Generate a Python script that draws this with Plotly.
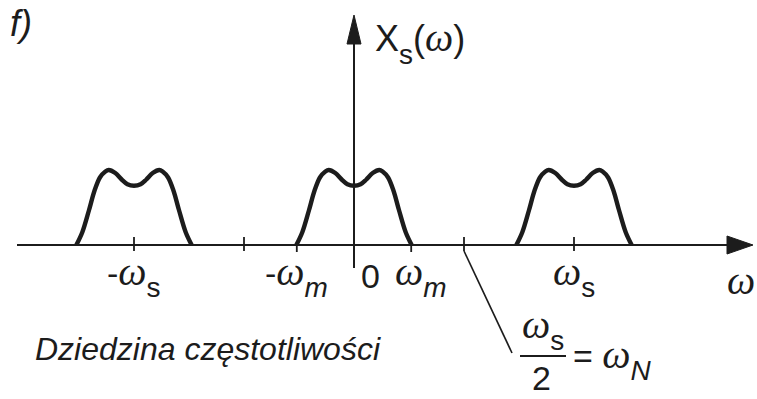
import plotly.graph_objects as go

# Frequency axis is expressed in units of the sampling frequency ω_s.
# One baseband spectrum lobe (offset from lobe centre, normalised magnitude).
lobe_offsets = [-0.262, -0.235, -0.205, -0.180, -0.155, -0.130, -0.115, -0.085, -0.055, -0.030, 0.0,
                0.030, 0.055, 0.085, 0.115, 0.130, 0.155, 0.180, 0.205, 0.235, 0.262]
lobe_heights = [0.0, 0.17, 0.46, 0.72, 0.90, 0.98, 1.0, 0.96, 0.87, 0.81, 0.79,
                0.81, 0.87, 0.96, 1.0, 0.98, 0.90, 0.72, 0.46, 0.17, 0.0]

# Spectral replicas appear at multiples of ω_s.
replica_centers = [-1.0, 0.0, 1.0]

omega_m = 0.26          # highest frequency of the baseband signal
omega_n = 0.5           # Nyquist frequency ω_s / 2
full_ticks = [-1.0, -0.5, 0.5, 1.0]
edge_ticks = [-omega_m, omega_m]

W, H = 757, 399
X_RANGE = [-354 / 220, 403 / 220]
Y_RANGE = [-154 / 75, 245 / 75]
PX = (X_RANGE[1] - X_RANGE[0]) / W   # data units per pixel, horizontal
PY = (Y_RANGE[1] - Y_RANGE[0]) / H   # data units per pixel, vertical

INK = "#1c1c1c"
SANS = "Liberation Sans"
SERIF = "Liberation Serif"
FS = 34
OM_FS = 40
SUB_FS = 28


def om():
    return f"<span style='font-family:{SERIF};font-size:{OM_FS}px'><i>ω</i></span>"


def sub(t, italic=False):
    t = f"<i>{t}</i>" if italic else t
    return (f"<sub><span style='font-size:{SUB_FS}px;baseline-shift:-5px'>{t}</span></sub>")


fig = go.Figure()

for c in replica_centers:
    fig.add_trace(go.Scatter(
        x=[c + o for o in lobe_offsets], y=lobe_heights,
        mode="lines", line=dict(color=INK, width=4.4, shape="spline", smoothing=0.9),
        hoverinfo="skip", showlegend=False))

shapes = []
# horizontal axis with arrow head
x_left = X_RANGE[0] + 17 * PX
x_tip = X_RANGE[1] - 4 * PX
x_base = x_tip - 26 * PX
shapes.append(dict(type="line", x0=x_left, x1=x_base, y0=0, y1=0,
                   line=dict(color=INK, width=2)))
shapes.append(dict(type="path",
                   path=f"M {x_base} {9 * PY} L {x_tip} 0 L {x_base} {-9 * PY} Z",
                   fillcolor=INK, line=dict(color=INK, width=1)))
# vertical axis with arrow head
y_bottom = -23 * PY
y_tip = Y_RANGE[1] - 15 * PY
y_base = y_tip - 29 * PY
shapes.append(dict(type="line", x0=0, x1=0, y0=y_bottom, y1=y_base,
                   line=dict(color=INK, width=2)))
shapes.append(dict(type="path",
                   path=f"M {-7 * PX} {y_base} L 0 {y_tip} L {7 * PX} {y_base} Z",
                   fillcolor=INK, line=dict(color=INK, width=1)))
# tick marks
for t in full_ticks:
    shapes.append(dict(type="line", x0=t, x1=t, y0=8 * PY, y1=-6 * PY,
                       line=dict(color=INK, width=1.8)))
for t in edge_ticks:
    shapes.append(dict(type="line", x0=t, x1=t, y0=0, y1=-7 * PY,
                       line=dict(color=INK, width=1.8)))

# leader from the Nyquist tick down to its label
lead_x1 = omega_n + 48 * PX
lead_y1 = -108 * PY
shapes.append(dict(type="line", x0=omega_n, x1=lead_x1, y0=-6 * PY, y1=lead_y1,
                   line=dict(color=INK, width=1.6)))
# fraction bar of ω_s / 2
frac_x0 = lead_x1 + 8 * PX
frac_x1 = frac_x0 + 46 * PX
frac_y = -111 * PY
shapes.append(dict(type="line", x0=frac_x0, x1=frac_x1, y0=frac_y, y1=frac_y,
                   line=dict(color=INK, width=1.8)))

annotations = []


def label(x, y, text, xanchor="center", yanchor="middle", size=FS, italic=False, xref="x", yref="y"):
    if italic:
        text = f"<i>{text}</i>"
    annotations.append(dict(x=x, y=y, xref=xref, yref=yref, text=text, showarrow=False,
                            xanchor=xanchor, yanchor=yanchor,
                            font=dict(family=SANS, size=size, color=INK)))


lab_y = -31 * PY
label(-1.0, lab_y, f"-{om()}{sub('s')}")
label(-omega_m, lab_y, f"-{om()}{sub('m', True)}")
label(0.077, lab_y, "0")
label(omega_m + 0.045, lab_y, f"{om()}{sub('m', True)}")
label(1.0, lab_y, f"{om()}{sub('s')}")
label(1.76, -35 * PY, om())

label(X_RANGE[0] + 373 * PX, Y_RANGE[1] - 42 * PY, f"X{sub('s')}({om()})", xanchor="left",
      size=36)

label((frac_x0 + frac_x1) / 2, frac_y + 27 * PY, f"{om()}{sub('s')}")
label((frac_x0 + frac_x1) / 2 - 2 * PX, frac_y - 22 * PY, "2")
label(frac_x1 + 5 * PX, frac_y - 3 * PY, f"= {om()}{sub('N', True)}", xanchor="left")

label(X_RANGE[0] + 33 * PX, -104 * PY, "Dziedzina częstotliwości", xanchor="left",
      italic=True, size=32)
label(8 / W, 1 - 23 / H, "f)", xanchor="left", italic=True, xref="paper", yref="paper", size=36)

fig.update_layout(
    width=W, height=H, autosize=False,
    margin=dict(l=0, r=0, t=0, b=0),
    paper_bgcolor="white", plot_bgcolor="white",
    xaxis=dict(range=X_RANGE, visible=False, fixedrange=True),
    yaxis=dict(range=Y_RANGE, visible=False, fixedrange=True),
    shapes=shapes, annotations=annotations,
    showlegend=False,
)

fig.write_html("out.html")
